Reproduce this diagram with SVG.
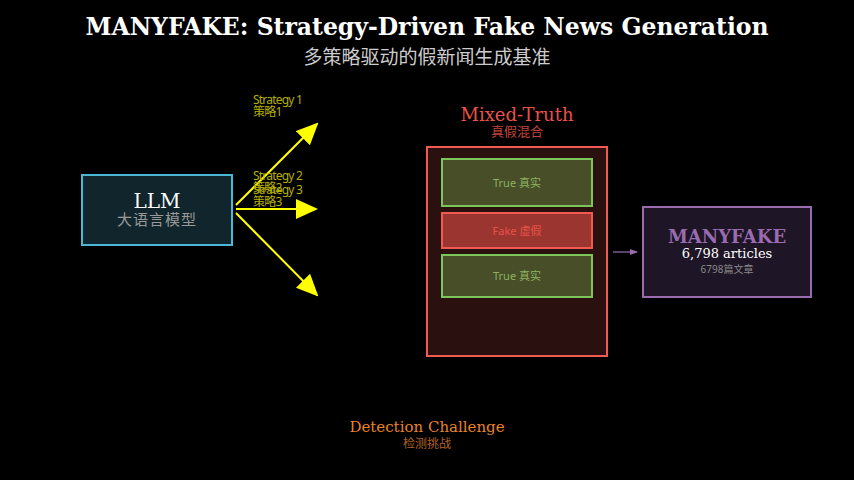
<svg xmlns="http://www.w3.org/2000/svg" width="854" height="480" viewBox="0 0 854 480">
<defs>
<marker id="ay" markerWidth="22" markerHeight="20" refX="20" refY="10" orient="auto" markerUnits="userSpaceOnUse"><path d="M0,0 L22,10 L0,20 z" fill="#ffff00"/></marker>
<marker id="ap" markerWidth="8" markerHeight="8" refX="7" refY="4" orient="auto" markerUnits="userSpaceOnUse"><path d="M0,1 L8,4 L0,7 z" fill="#9b6bb0"/></marker>
</defs>
<style>
.serif{font-family:"DejaVu Serif","Liberation Serif",serif}
.sans{font-family:"Noto Sans","Noto Sans CJK SC",sans-serif}
.cjk{font-family:"Noto Sans CJK SC",sans-serif}
.lbl{font-family:"Noto Sans","Noto Sans CJK SC",sans-serif;font-size:12px;fill:#b5b000;letter-spacing:-0.8px}
</style>
<rect width="854" height="480" fill="#000"/>
<text x="427" y="35" text-anchor="middle" class="serif" font-size="23.5" font-weight="bold" fill="#fff">MANYFAKE: Strategy-Driven Fake News Generation</text>
<text x="427" y="64" text-anchor="middle" class="cjk" font-size="19" fill="#ccc">多策略驱动的假新闻生成基准</text>
<g id="llm">
<rect x="82" y="175" width="150" height="70" fill="#10262c" stroke="#4bb8d6" stroke-width="2"/>
<text x="157" y="208" text-anchor="middle" class="serif" font-size="20" fill="#fff">LLM</text>
<text x="157" y="225" text-anchor="middle" class="cjk" font-size="15" fill="#999" letter-spacing="1">大语言模型</text>
</g>
<g id="connectors" stroke="#ffff00" stroke-width="2" fill="none">
<path d="M236,205 L317,124" marker-end="url(#ay)"/>
<path d="M236,209 L316,209" marker-end="url(#ay)"/>
<path d="M236,213 L317,295" marker-end="url(#ay)"/>
<path d="M613,252 L637,252" stroke="#9b6bb0" stroke-width="1.2" marker-end="url(#ap)"/>
</g>
<g id="labels">
<text x="253" y="104" class="lbl">Strategy 1</text>
<text x="253" y="116" class="lbl">策略1</text>
<text x="253" y="180" class="lbl">Strategy 2</text>
<text x="253" y="192" class="lbl">策略2</text>
<text x="253" y="194" class="lbl">Strategy 3</text>
<text x="253" y="206" class="lbl">策略3</text>
</g>
<g id="mixed">
<text x="517" y="121" text-anchor="middle" class="serif" font-size="18" fill="#e8524a">Mixed-Truth</text>
<text x="517" y="136" text-anchor="middle" class="cjk" font-size="13" fill="#c0443d">真假混合</text>
<rect x="427" y="147" width="180" height="209" fill="#2a100e" stroke="#f05a50" stroke-width="2"/>
</g>
<g id="true1"><rect x="442" y="159" width="150" height="47" fill="#474e28" stroke="#7cc55a" stroke-width="2"/><text x="517" y="187" text-anchor="middle" class="sans" font-size="11" fill="#8fb060">True 真实</text></g>
<g id="fake"><rect x="442" y="213" width="150" height="35" fill="#9b3530" stroke="#f05a50" stroke-width="2"/><text x="517" y="235" text-anchor="middle" class="sans" font-size="11" fill="#e8524a">Fake 虚假</text></g>
<g id="true2"><rect x="442" y="255" width="150" height="42" fill="#474e28" stroke="#7cc55a" stroke-width="2"/><text x="517" y="280" text-anchor="middle" class="sans" font-size="11" fill="#8fb060">True 真实</text></g>
<g id="manyfake">
<rect x="643" y="207" width="168" height="90" fill="#1e1626" stroke="#9b6bb0" stroke-width="2"/>
<text x="727" y="243" text-anchor="middle" class="serif" font-size="18" font-weight="bold" fill="#9b6bb0">MANYFAKE</text>
<text x="727" y="258" text-anchor="middle" class="serif" font-size="13" fill="#fff">6,798 articles</text>
<text x="727" y="273" text-anchor="middle" class="sans" font-size="10" fill="#888">6798篇文章</text>
</g>
<g id="detection">
<text x="427" y="432" text-anchor="middle" class="serif" font-size="15" fill="#e8832a">Detection Challenge</text>
<text x="427" y="448" text-anchor="middle" class="cjk" font-size="12" fill="#b0601e">检测挑战</text>
</g>
</svg>
